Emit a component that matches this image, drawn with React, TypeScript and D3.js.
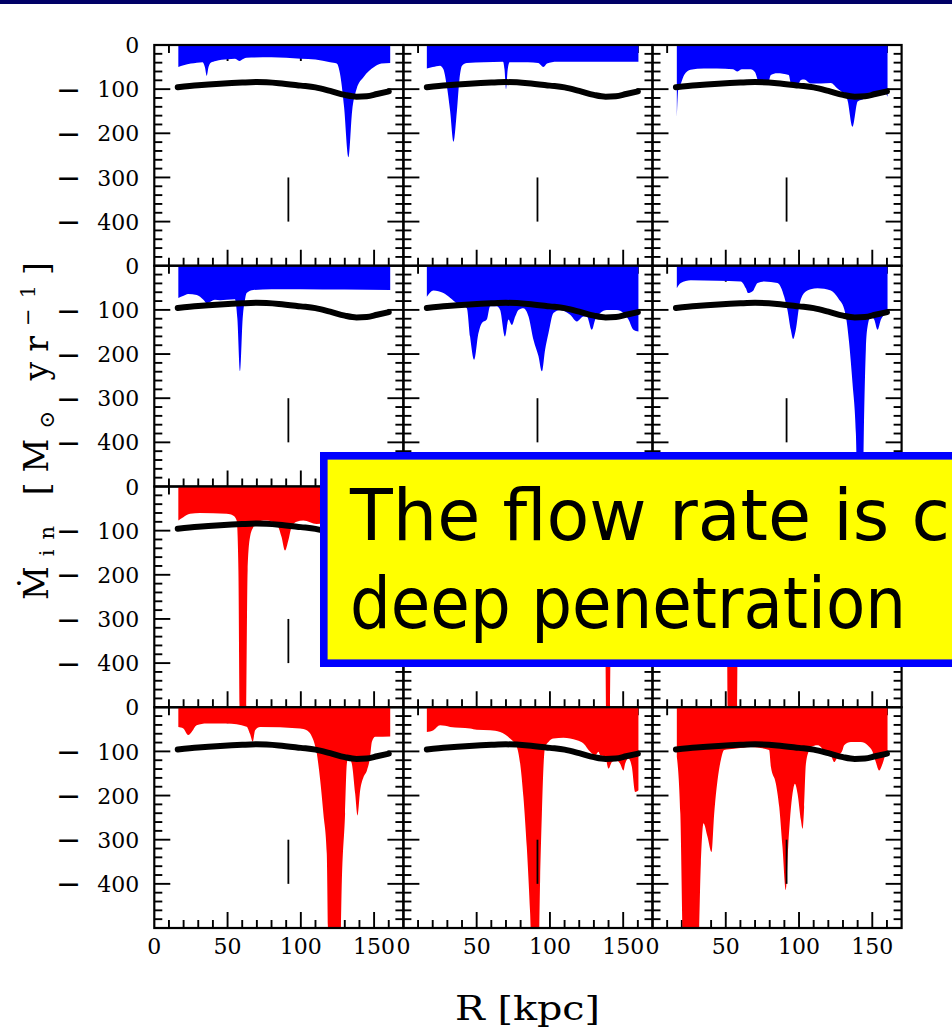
import React from 'react';
import * as d3 from 'd3';

const W = 952;
const H = 1030;

// panel grid
const PLOT_LEFT = 154.3;
const PLOT_TOP = 45;
const COL_W = 249.1;
const ROW_H = 220.75;
const R_MAX = 170;
const V_MIN = -500;

const xLabelTicks = [0, 50, 100, 150];
const yLabelTicks = [0, -100, -200, -300, -400];

// radial marker (R, from, to)
const markerR = 91.5;
const markerSpan = [-300, -400];

// mean inflow profile, same in every panel
const meanR = [16, 30, 45, 60, 70, 85, 100, 110, 120, 130, 138, 145, 152, 160];
const meanV = [-95.5, -91, -87.5, -85, -84, -86.5, -92, -96, -104, -113, -117, -116, -111, -105];

// inflow rate profiles [R kpc, Mdot]
const profA = [[16.4,-50],[20,-46],[25,-42],[29,-40],[33,-39],[34.5,-50],[35.8,-70],[37,-50],[38.5,-40],[42,-36],[50,-32],[55,-31],[58,-36],[61,-31],[63,-29],[80,-28],[90,-29],[100,-31],[110,-33],[120,-39],[124.5,-42],[127,-70],[129.5,-140],[132.5,-254],[135,-150],[138,-100],[143,-72],[150,-50],[155,-42],[161,-41]];
const profB = [[16,-53],[20,-50],[25,-47],[27.3,-55],[29.5,-90],[31.9,-150],[34.2,-219],[36.5,-150],[38.2,-80],[40,-47],[43.3,-41],[55,-39],[68,-38],[69,-55],[70.1,-100],[71.2,-55],[72.5,-39],[85,-39],[92,-41],[95.6,-50],[98,-42],[104.7,-38],[130,-38],[150,-38],[160.4,-38]];
const profC = [[16.6,-164],[17.6,-100],[19.3,-88],[21.6,-68],[26,-56],[35,-53],[44,-53],[55,-55],[58,-60],[61,-55],[67,-55],[70,-62],[72,-80],[76,-88],[78.5,-90],[80.8,-68],[85,-64],[93,-68],[94.4,-86],[99,-90],[101.3,-79],[103.5,-78],[108,-87],[115,-87],[121.7,-86],[126,-98],[131,-113],[133,-124],[136.5,-185],[140,-128],[144.5,-121],[147,-109],[158,-106],[160.4,-117]];
const profD = [[16.4,-73],[20,-68],[23,-64],[29,-66],[33.5,-77],[36,-85],[38,-82],[41.4,-77],[45,-78],[49.4,-77],[55,-76],[56.7,-120],[58.5,-239],[60.3,-120],[62,-75],[63,-62],[67.6,-55],[80,-53],[100,-53],[130,-54],[161,-55]];
const profE = [[16,-70],[20.5,-56],[27.3,-62],[32,-73],[36.4,-85],[43.3,-96],[45.5,-160],[48.3,-213],[51.2,-153],[53.5,-130],[56.9,-122],[59.2,-92],[63.7,-92],[66,-100],[69.4,-160],[71.7,-122],[74,-134],[76.3,-115],[78.5,-100],[81.9,-96],[85.4,-115],[88.8,-168],[92.2,-205],[94.5,-239],[96.7,-190],[99,-153],[102.4,-107],[107,-100],[113.8,-111],[118.4,-126],[122.9,-115],[125.2,-115],[128.6,-145],[130.9,-122],[134.3,-107],[138.8,-100],[145.6,-100],[150.2,-107],[153.6,-122],[157,-145],[160.4,-149]];
const profF = [[16.6,-51],[19.3,-39],[26.1,-33],[44.4,-34],[60.3,-35.5],[63.7,-51],[65.3,-62],[68.3,-58],[71.7,-39],[76.2,-35.5],[85.3,-39],[89.9,-70],[92.1,-100],[94.4,-145],[96,-166],[97.8,-145],[100.1,-92],[103.5,-62],[108,-53],[112.6,-51],[121.7,-56],[124,-62],[127.4,-77],[129.7,-88],[132,-115],[134.2,-175],[136.5,-266],[138.8,-380],[140.3,-560],[143.3,-560],[144.5,-326],[145.6,-190],[146.8,-137],[149,-115],[151.3,-122],[153.6,-145],[155.9,-122],[158.1,-111],[160.4,-103]];
const profG = [[16.4,-77],[19.8,-69.5],[24.4,-62],[31.2,-60],[49.4,-62],[54,-66],[56.2,-77],[57.4,-190],[58.5,-560],[62.6,-560],[63.7,-190],[65.3,-115],[67.6,-92],[69.9,-80],[72.2,-78],[76.7,-77],[83.5,-85],[86.9,-115],[89.2,-145],[91.5,-122],[93.7,-92],[97.1,-80],[101.7,-77],[110.8,-85],[120,-80],[130,-70],[140,-75],[150,-70],[161,-72]];
const profH = [[16,-60],[25,-48],[40,-45],[60,-50],[80,-55],[95,-70],[100,-60],[120,-65],[130,-80],[136,-120],[137.7,-300],[138.5,-560],[140.8,-560],[141.6,-300],[143,-130],[150,-110],[160,-100]];
const profI = [[16.6,-70],[25,-55],[40,-50],[48,-60],[50.5,-150],[51.6,-560],[57.6,-560],[58.7,-150],[62,-70],[80,-60],[100,-65],[120,-80],[140,-100],[160,-90]];
const profJ = [[16.4,-45],[19.8,-48],[23.2,-63],[25.5,-56],[28.9,-41],[35.8,-37],[49.4,-37],[63,-44],[65.3,-60],[67.2,-78],[68.8,-52],[72.2,-45],[99.5,-48],[104,-52],[108.6,-75],[110.9,-105],[113.2,-165],[115.4,-241],[117.7,-331],[119,-560],[126.8,-560],[128,-392],[130.2,-241],[131.4,-128],[132.5,-112],[134.8,-128],[137.1,-196],[138.7,-245],[140.5,-188],[142.8,-158],[145.1,-143],[147.3,-112],[148.5,-78],[150.8,-67],[161,-66]];
const profK = [[16,-56],[20.5,-52],[25,-41],[31.9,-44.5],[45.5,-48],[50.1,-51],[59.2,-52],[66,-56],[72.8,-71],[77.4,-90],[79.7,-128],[81.9,-203],[84.2,-316],[86.5,-467],[87.6,-560],[92.2,-560],[93.3,-392],[94.5,-241],[95.6,-135],[96.7,-90],[99,-78.5],[102.4,-71],[109.2,-69],[118.4,-75],[122.9,-82],[127.5,-101],[130.9,-109],[133.2,-101],[134.3,-109],[137.7,-112],[140,-139],[142.3,-124],[145.6,-120],[147.9,-128],[150.2,-143],[151.3,-128],[153.6,-116],[155.9,-135],[158.2,-192],[160.4,-188]];
const profL = [[16.6,-112],[19,-241],[21.2,-560],[31.1,-560],[33,-354],[34.8,-263],[37.5,-293],[40.3,-328],[42.1,-241],[44.4,-165],[46.6,-120],[48.9,-97],[55.7,-94],[67.1,-90],[79.6,-97],[80.8,-135],[84.2,-173],[86.5,-226],[88.7,-316],[91,-414],[92.6,-316],[95.6,-195],[97.2,-173],[99,-196],[101.3,-256],[102.4,-275],[103.5,-226],[104.7,-128],[107,-97],[108.1,-90],[112.6,-86],[114.9,-90],[117.2,-101],[121.7,-109],[124,-124],[126.3,-112],[129.7,-97],[130.8,-86],[135.4,-78.5],[142.2,-78.5],[146.8,-86],[150.2,-101],[152.4,-124],[154.7,-143],[157,-128],[159.3,-105],[160.4,-101]];

const rowProfiles = [
  [profA, profB, profC],
  [profD, profE, profF],
  [profG, profH, profI],
  [profJ, profK, profL],
];
const rowColors = ['#0000ff', '#0000ff', '#ff0000', '#ff0000'];

const x = d3.scaleLinear().domain([0, R_MAX]).range([0, COL_W]);
const y = d3.scaleLinear().domain([0, V_MIN]).range([0, ROW_H]);

const area = d3.area<number[]>()
  .x((d) => x(d[0]))
  .y0(y(0))
  .y1((d) => y(d[1]))
  .curve(d3.curveMonotoneX);

const meanPts = meanR.map((r, i) => [r, meanV[i]]);
const meanLine = d3.line<number[]>()
  .x((d) => x(d[0]))
  .y((d) => y(d[1]))
  .curve(d3.curveMonotoneX);

const SERIF = "'DejaVu Serif', 'Liberation Serif', serif";
const HAND = "'Comic Sans MS', 'DejaVu Sans', sans-serif";
const LABEL_SIZE = 22;
const DIGIT_ADV = 0.636 * LABEL_SIZE; // DejaVu Serif figure width
const Y_LABEL_RIGHT = PLOT_LEFT - 15;
const MINUS_X = 56;
const MINUS_SIZE = 30;

function PanelTicks() {
  const els: React.ReactNode[] = [];
  d3.range(-20, V_MIN, -20).forEach((v) => {
    const len = v % 100 === 0 ? 16 : 8;
    els.push(<line key={'l' + v} x1={0} x2={len} y1={y(v)} y2={y(v)} />);
    els.push(<line key={'r' + v} x1={COL_W} x2={COL_W - len} y1={y(v)} y2={y(v)} />);
  });
  d3.range(10, R_MAX, 10).forEach((r) => {
    const len = r % 50 === 0 ? 16 : 8;
    els.push(<line key={'t' + r} x1={x(r)} x2={x(r)} y1={0} y2={len} />);
    els.push(<line key={'b' + r} x1={x(r)} x2={x(r)} y1={ROW_H} y2={ROW_H - len} />);
  });
  return <g stroke="#000" strokeWidth={1.9}>{els}</g>;
}

function YTickLabel({ v, yPos }: { v: number; yPos: number }) {
  const digits = String(Math.abs(v));
  const baseline = yPos + 0.37 * LABEL_SIZE;
  const digitsX = Y_LABEL_RIGHT - digits.length * DIGIT_ADV;
  return (
    <text fontFamily={SERIF} fontSize={LABEL_SIZE} fill="#000">
      {v < 0 && (
        <tspan x={MINUS_X} y={baseline + 2.5} fontSize={MINUS_SIZE}>{'\u2212'}</tspan>
      )}
      <tspan x={digitsX} y={baseline}>{digits}</tspan>
    </text>
  );
}

export default function App() {
  return (
    <svg
      width={W}
      height={H}
      viewBox={`0 0 ${W} ${H}`}
      style={{ position: 'fixed', left: 0, top: 0, background: '#fff' }}
    >
      <rect x={0} y={0} width={W} height={H} fill="#fff" />
      <rect x={0} y={0} width={W} height={4} fill="#000066" />
      <defs>
        <clipPath id="panelClip">
          <rect x={0} y={0} width={COL_W} height={ROW_H} />
        </clipPath>
      </defs>

      {rowProfiles.map((row, ri) =>
        row.map((prof, ci) => {
          const tx = PLOT_LEFT + ci * COL_W;
          const ty = PLOT_TOP + ri * ROW_H;
          return (
            <g key={`${ri}-${ci}`} transform={`translate(${tx},${ty})`}>
              <PanelTicks />
              <g clipPath="url(#panelClip)">
                <path d={area(prof) ?? ''} fill={rowColors[ri]} />
              </g>
              <rect x={0} y={0} width={COL_W} height={ROW_H} fill="none" stroke="#000" strokeWidth={2.2} />
              <path d={meanLine(meanPts) ?? ''} fill="none" stroke="#000" strokeWidth={6} strokeLinecap="round" />
              <line
                x1={x(markerR)} x2={x(markerR)}
                y1={y(markerSpan[0])} y2={y(markerSpan[1])}
                stroke="#000" strokeWidth={1.8}
              />
            </g>
          );
        })
      )}

      {/* y tick labels, left column */}
      {rowProfiles.map((_, ri) =>
        yLabelTicks.map((v) => (
          <YTickLabel key={`yl-${ri}-${v}`} v={v} yPos={PLOT_TOP + ri * ROW_H + y(v)} />
        ))
      )}

      {/* x tick labels, bottom row */}
      {[0, 1, 2].map((ci) =>
        xLabelTicks.map((r) => (
          <text
            key={`xl-${ci}-${r}`}
            x={PLOT_LEFT + ci * COL_W + x(r)}
            y={PLOT_TOP + 4 * ROW_H + 26}
            textAnchor="middle"
            fontFamily={SERIF}
            fontSize={LABEL_SIZE}
            fill="#000"
          >
            {r}
          </text>
        ))
      )}

      <text x={455} y={1020} fontFamily={SERIF} fontSize={34} fill="#000"
        textLength={145} lengthAdjust="spacingAndGlyphs">
        R [kpc]
      </text>

      {/* y axis title, rotated */}
      <text
        transform="translate(48,600) rotate(-90)"
        fontFamily={SERIF}
        fontSize={33}
        fill="#000"
        textLength={338}
        lengthAdjust="spacing"
      >
        <tspan>{'\u1E40'}</tspan>
        <tspan fontSize={21} dy={6}>in</tspan>
        <tspan dy={-6}>{' [M'}</tspan>
        <tspan fontSize={21} dy={6}>{'\u2299'}</tspan>
        <tspan dy={-6}>{' yr'}</tspan>
        <tspan fontSize={21} dy={-13}>{'\u22121'}</tspan>
        <tspan dy={13}>]</tspan>
      </text>

      {/* annotation box */}
      <rect x={323.8} y={455.8} width={700} height={207.4} fill="#ffff00" stroke="#0000ff" strokeWidth={7.6} />
      <text x={350} y={540} fontFamily={HAND} fontSize={72} fill="#000"
        textLength={600} lengthAdjust="spacingAndGlyphs">
        The flow rate is c
      </text>
      <text x={350} y={628} fontFamily={HAND} fontSize={72} fill="#000"
        textLength={556} lengthAdjust="spacingAndGlyphs">
        deep penetration
      </text>
    </svg>
  );
}
